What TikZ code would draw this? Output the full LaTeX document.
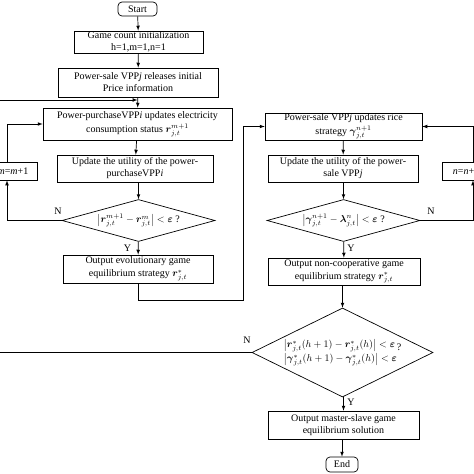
\documentclass[tikz,border=0pt]{standalone}
\usepackage{fontspec}
\setmainfont{Liberation Serif}
\usepackage{amsmath}
\usetikzlibrary{shapes.geometric}
\tikzset{
  term/.style={draw,rounded corners=4pt,minimum width=39pt,minimum height=14pt,inner sep=0pt},
  proc/.style={draw,align=center,inner sep=0pt},
  decide/.style={draw,diamond,aspect=3.6,inner sep=-3pt,minimum width=153pt,minimum height=42pt},
  lbl/.style={inner sep=0pt}
}
\newcommand{\bsym}[1]{\boldsymbol{#1}}
\begin{document}
\begin{tikzpicture}[x=1pt,y=-1pt,>=latex,line width=0.7pt,font=\fontsize{10}{12}\selectfont]
\useasboundingbox (0,0) rectangle (474,474);
\clip (0,0) rectangle (474,474);
% power-purchase side
\node[term] (start) at (137.5,9) {Start};
\node[proc,minimum width=129pt,minimum height=22pt] (init) at (138.5,42) {Game count initialization\\h=1,m=1,n=1};
\node[proc,minimum width=160pt,minimum height=29pt] (release) at (138,82.5) {Power-sale VPP\textit{j} releases initial\\Price information};
\coordinate (joinL) at (137.5,100);
\node[proc,minimum width=189pt,minimum height=32pt] (purchase) at (137.5,124) {Power-purchaseVPP\textit{i} updates electricity\\[2pt]consumption status $\bsym{r}^{m+1}_{j,t}$};
\node[proc,minimum width=156pt,minimum height=27pt] (utilL) at (135,168.5) {Update the utility of the power-\\purchaseVPP\textit{i}};
\node[decide] (decL) at (138.5,220.5) {$\left|\bsym{r}^{m+1}_{j,t}-\bsym{r}^{m}_{j,t}\right|<\bsym{\varepsilon}$ ?};
\node[proc,minimum width=48pt,minimum height=18pt] (mbox) at (13,171) {\textit{m}=\textit{m}+1};
\node[proc,minimum width=150pt,minimum height=28pt] (outL) at (138,269) {Output evolutionary game\\[1pt]equilibrium strategy $\bsym{r}^{*}_{j,t}$};
\coordinate (bend) at (243,300);
% power-sale side
\node[proc,minimum width=157pt,minimum height=27pt] (sale) at (343.5,126.5) {Power-sale VPP\textit{j} updates rice\\[2pt]strategy $\bsym{\gamma}^{n+1}_{j,t}$};
\node[proc,minimum width=150pt,minimum height=27pt] (utilR) at (343,168.5) {Update the utility of the power-\\sale VPP\textit{j}};
\node[decide] (decR) at (343.5,220.5) {$\left|\bsym{\gamma}^{n+1}_{j,t}-\bsym{\lambda}^{n}_{j,t}\right|<\bsym{\varepsilon}$ ?};
\node[proc,minimum width=48pt,minimum height=18pt] (nbox) at (466,171) {\textit{n}=\textit{n}+1};
\node[proc,minimum width=152pt,minimum height=27pt] (outR) at (344,271.5) {Output non-cooperative game\\[1pt]equilibrium strategy $\bsym{r}^{*}_{j,t}$};
% master-slave check
\node[decide,aspect=2.03,inner sep=-6pt,minimum width=181pt,minimum height=89pt] (decBig) at (342.5,352.5)
  {$\begin{array}{@{}l@{}}\left|\bsym{r}^{*}_{j,t}(h+1)-\bsym{r}^{*}_{j,t}(h)\right|<\bsym{\varepsilon}\\[2pt]
   \left|\bsym{\gamma}^{*}_{j,t}(h+1)-\bsym{\gamma}^{*}_{j,t}(h)\right|<\bsym{\varepsilon}\end{array}$\raisebox{5pt}{?}};
\node[proc,minimum width=151pt,minimum height=28pt] (master) at (343.5,425) {Output master-slave game\\equilibrium solution};
\node[term,minimum width=32pt,minimum height=15pt] (end) at (342,464.5) {End};
% labels
\node[lbl] (nL) at (58,211) {N};
\node[lbl] (yL) at (127.5,248) {Y};
\node[lbl] (nR) at (431,211) {N};
\node[lbl] (yR) at (351,248) {Y};
\node[lbl] (nBig) at (247,340) {N};
\node[lbl] (yBig) at (351,402) {Y};
% connectors
\draw[->] (start) -- (init);
\draw[->] (init) -- (release);
\draw[->] (release) -- (purchase);
\draw[->] (purchase) -- (utilL);
\draw[->] (utilL.south -| decL.north) -- (decL);
\draw[->] (decL) -- (outL);
\draw[->] (decL.west) -| ([xshift=-6pt]mbox.south);
\draw[->] ([xshift=-6pt]mbox.north) |- (purchase.west);
\draw[->] (outL.south) |- (bend) |- (sale.west);
\draw[->] (sale) -- (utilR);
\draw[->] (utilR.south -| decR.north) -- (decR);
\draw[->] (decR) -- (outR);
\draw[->] (decR.east) -| ([xshift=7pt]nbox.south);
\draw[->] ([xshift=7pt]nbox.north) |- (sale.east);
\draw[->] (outR.south -| decBig.north) -- (decBig);
\draw[->] (decBig.south -| master.north) -- (master);
\draw[->] (master.south -| end.north) -- (end);
\draw[->] (decBig.west) -| (-12,100) -- (joinL);
\end{tikzpicture}
\end{document}
